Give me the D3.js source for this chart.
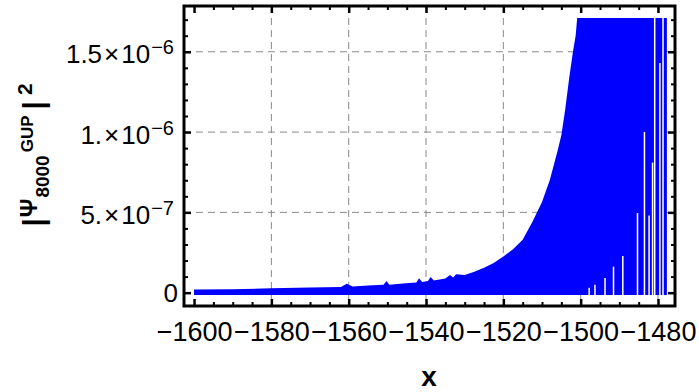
<!DOCTYPE html>
<html>
<head>
<meta charset="utf-8">
<script src="https://cdn.jsdelivr.net/npm/d3@7"></script>
<style>
body { margin: 0; background: #fff; }
svg { display: block; font-family: "Liberation Sans", Arial, sans-serif; }
</style>
</head>
<body>
<div id="viz"></div>
<script>
var width = 699
var height = 392

// upper edge of the dense |psi|^2 band, values in units of 1e-7
var bandX = [-1600, -1590, -1580, -1570, -1562, -1560.5, -1559, -1555, -1551, -1550.2, -1549.5, -1546,
	-1542.5, -1541.8, -1541, -1539.5, -1538.8, -1538, -1535, -1533.8, -1533, -1532.2, -1530, -1527.5,
	-1525, -1522.5, -1520, -1517.5, -1515, -1512.5, -1510, -1508, -1506, -1505, -1504, -1503, -1502,
	-1501.3, -1500.9, -1477.7]
var bandTop = [0.2, 0.22, 0.27, 0.32, 0.36, 0.55, 0.38, 0.44, 0.49, 0.72, 0.5, 0.57,
	0.64, 0.9, 0.66, 0.72, 0.98, 0.76, 0.88, 1.1, 0.95, 1.15, 1.1, 1.3,
	1.55, 1.85, 2.25, 2.7, 3.3, 4.4, 5.65, 7.0, 8.8, 9.8, 11.4, 13.3, 15.0,
	16.0, 17.1, 17.1]
var bandFloor = -0.15

// white gaps near the right end: x and how high the gap reaches (1e-7)
var gapX = [-1497.8, -1496.3, -1493.7, -1491.5, -1489.1, -1485.3, -1483.5, -1482.3, -1481.4, -1480.85, -1479.5, -1478.7]
var gapTop = [0.3, 0.5, 0.92, 1.62, 2.29, 4.96, 10.0, 4.8, 8.1, 17.1, 14.3, 17.1]

var xTicks = [-1600, -1580, -1560, -1540, -1520, -1500, -1480]
var yTicks = [0, 5e-7, 1e-6, 1.5e-6]
var yTickMant = ["0", "5.", "1.", "1.5"]
var yTickExp = ["", "\u22127", "\u22126", "\u22126"]

var fLeft = 184, fRight = 675, fTop = 6, fBottom = 306

var x = d3.scaleLinear().domain([-1602.6, -1475.6]).range([fLeft, fRight])
var y = d3.scaleLinear().domain([-0.83e-7, 1.785e-6]).range([fBottom, fTop])

var svg = d3.select("#viz")
	.append("svg")
	.attr("width", width)
	.attr("height", height)

// grid
svg.append("g").selectAll("line")
	.data(xTicks.slice(1))
	.enter().append("line")
	.attr("x1", function(d){ return x(d) })
	.attr("x2", function(d){ return x(d) })
	.attr("y1", fTop).attr("y2", fBottom)
	.attr("stroke", "#888").attr("stroke-width", 1).attr("stroke-dasharray", "7,5")

svg.append("g").selectAll("line")
	.data(yTicks.slice(1))
	.enter().append("line")
	.attr("y1", function(d){ return y(d) })
	.attr("y2", function(d){ return y(d) })
	.attr("x1", fLeft).attr("x2", fRight)
	.attr("stroke", "#888").attr("stroke-width", 1).attr("stroke-dasharray", "7,5")

// band
var band = bandX.map(function(v, i){ return {x: v, top: bandTop[i]} })
var area = d3.area()
	.x(function(d){ return x(d.x) })
	.y0(y(bandFloor * 1e-7))
	.y1(function(d){ return y(d.top * 1e-7) })

svg.append("path")
	.datum(band)
	.attr("d", area)
	.attr("fill", "#0000ff")

svg.append("g").selectAll("line")
	.data(gapX.map(function(v, i){ return {x: v, top: gapTop[i]} }))
	.enter().append("line")
	.attr("x1", function(d){ return x(d.x) })
	.attr("x2", function(d){ return x(d.x) })
	.attr("y1", y(bandFloor * 1e-7) + 1)
	.attr("y2", function(d){ return y(d.top * 1e-7) })
	.attr("stroke", "#fff").attr("stroke-width", 1.5)

// ticks on all four sides, pointing in
var xMinor = d3.range(-1600, -1479, 5).filter(function(d){ return d % 20 !== 0 })
var yMinor = d3.range(1, 18).filter(function(d){ return d % 5 !== 0 }).map(function(d){ return d * 1e-7 })

function tickAxis(axis, scale, values, size, pos, sw) {
	var g = svg.append("g")
		.attr("transform", pos)
		.call(axis(scale).tickValues(values).tickSizeInner(size).tickSizeOuter(0).tickFormat(""))
	g.select(".domain").remove()
	g.selectAll("line").attr("stroke", "#000").attr("stroke-width", sw)
	return g
}
tickAxis(d3.axisBottom, x, xTicks, -7, "translate(0," + fBottom + ")", 2.5)
tickAxis(d3.axisBottom, x, xMinor, -4, "translate(0," + fBottom + ")", 2)
tickAxis(d3.axisTop, x, xTicks, -7, "translate(0," + fTop + ")", 2.5)
tickAxis(d3.axisTop, x, xMinor, -4, "translate(0," + fTop + ")", 2)
tickAxis(d3.axisLeft, y, yTicks, -7, "translate(" + fLeft + ",0)", 2.5)
tickAxis(d3.axisLeft, y, yMinor, -4, "translate(" + fLeft + ",0)", 2)
tickAxis(d3.axisRight, y, yTicks, -7, "translate(" + fRight + ",0)", 2.5)
tickAxis(d3.axisRight, y, yMinor, -4, "translate(" + fRight + ",0)", 2)

// frame
svg.append("rect")
	.attr("x", fLeft).attr("y", fTop)
	.attr("width", fRight - fLeft).attr("height", fBottom - fTop)
	.attr("fill", "none").attr("stroke", "#000").attr("stroke-width", 3)

// x labels
var xAxis = d3.axisBottom(x)
	.tickValues(xTicks)
	.tickSize(0)
	.tickPadding(16)
	.tickFormat(d3.format("d"))
var gx = svg.append("g").attr("transform", "translate(0," + fBottom + ")").call(xAxis)
gx.select(".domain").remove()
gx.selectAll("text").attr("font-size", 27).attr("font-family", "Liberation Sans").attr("fill", "#000")

// y labels
yTicks.forEach(function(v, i){
	var t = svg.append("text")
		.attr("text-anchor", "end")
		.attr("font-size", 26)
		.attr("fill", "#000")
	if (yTickExp[i] === "") {
		t.attr("x", 178).attr("y", y(v) + 9).text(yTickMant[i])
	} else {
		t.attr("x", 174).attr("y", y(v) + 11.5)
		t.append("tspan").text(yTickMant[i])
		t.append("tspan").attr("dx", 2).text("\u00d7")
		t.append("tspan").attr("dx", 2).text("10")
		t.append("tspan").attr("font-size", 20).attr("dy", -9).attr("dx", 1).text(yTickExp[i])
	}
})

// axis titles
svg.append("text")
	.attr("x", 429).attr("y", 386)
	.attr("text-anchor", "middle")
	.attr("font-size", 28).attr("font-weight", "bold")
	.text("x")

var yl = svg.append("text")
	.attr("transform", "translate(37,155) rotate(-90)")
	.attr("text-anchor", "middle")
	.attr("font-weight", "bold")
yl.append("tspan").attr("font-size", 30).attr("dy", 7).text("|")
yl.append("tspan").attr("font-size", 23).attr("dy", -7).attr("dx", 1).text("\u03a8")
yl.append("tspan").attr("font-size", 19).attr("dy", 12).attr("dx", 1).text("8000")
yl.append("tspan").attr("font-size", 17).attr("dy", -16).attr("dx", 3).text("GUP")
yl.append("tspan").attr("font-size", 30).attr("dy", 11).attr("dx", 6).text("|")
yl.append("tspan").attr("font-size", 21).attr("dy", -12).attr("dx", 6).text("2")
</script>
</body>
</html>
